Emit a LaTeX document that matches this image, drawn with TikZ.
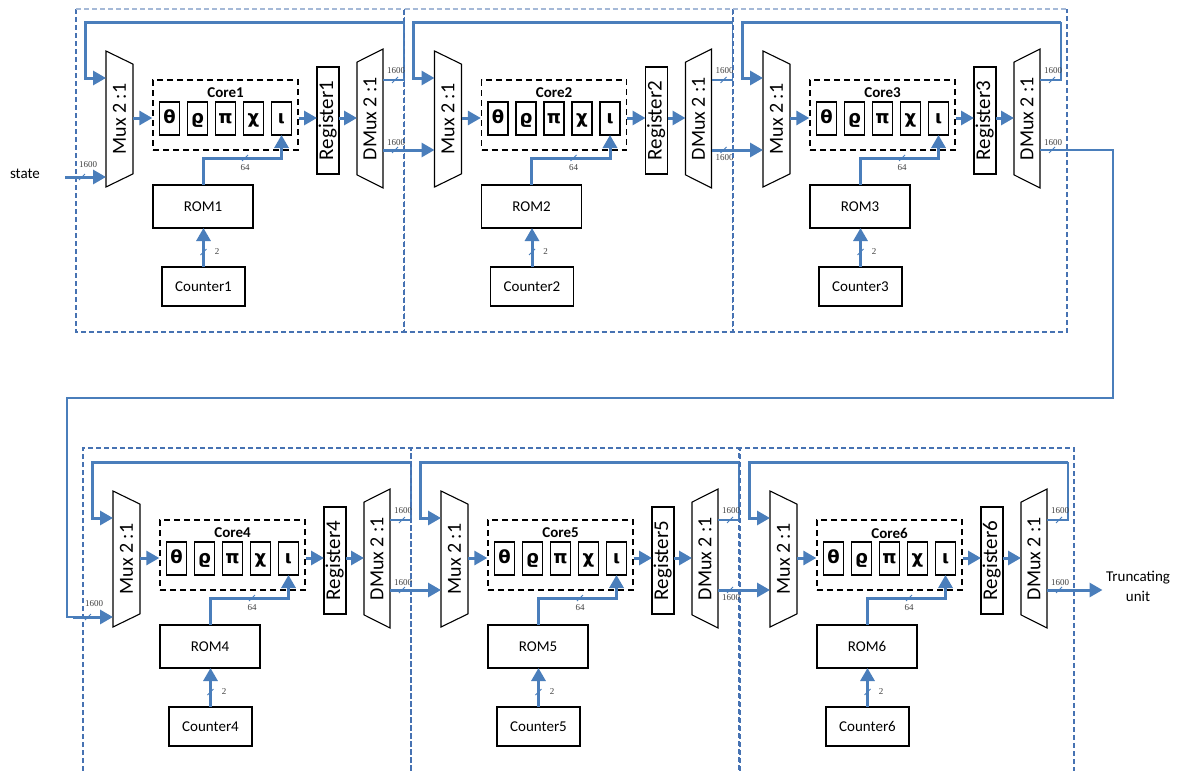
\documentclass[tikz,border=0pt]{standalone}
\usepackage{fontspec}
\setmainfont{Carlito}
\newfontfamily\greekfont{DejaVu Sans}
\newfontfamily\numfont{Liberation Serif}
\usetikzlibrary{arrows.meta,shapes.geometric}
\definecolor{busblue}{RGB}{74,126,187}
\definecolor{frameblue}{RGB}{70,114,178}
\definecolor{frametop}{RGB}{165,185,215}

\begin{document}
\begin{tikzpicture}[x=1pt,y=-1pt,>={Triangle[length=13pt,width=14pt]},
 blk/.style={draw,line width=1.1pt,inner sep=0pt,outer sep=0pt},
 box/.style={blk,minimum width=100pt,minimum height=43pt,font=\fontsize{15}{18}\selectfont},
 mux/.style={blk,trapezium,trapezium angle=45,trapezium stretches body,minimum width=136pt,minimum height=27pt,rotate=90,shape border rotate=180,font=\fontsize{20}{24}\selectfont},
 dmux/.style={mux,shape border rotate=0,minimum width=139pt,minimum height=26pt},
 reg/.style={blk,rotate=90,minimum width=107pt,minimum height=22pt,text height=14pt,text depth=4pt,font=\fontsize{21}{24}\selectfont},
 core/.style={draw,line width=1.4pt,dash pattern=on 6pt off 4pt,minimum width=145pt,minimum height=70pt},
 gbox/.style={blk,minimum width=20pt,minimum height=33pt,text height=13pt,text depth=3pt,font=\greekfont\bfseries\fontsize{18}{18}\selectfont},
 bus/.style={draw=busblue,line width=3pt},
 wire/.style={draw=busblue,line width=1.2pt},
 stagebox/.style={draw=frameblue,line width=1.3pt,dash pattern=on 5pt off 3pt},
 num/.style={font=\numfont\fontsize{9}{9}\selectfont,text=black!75,inner sep=1pt},
 lbl/.style={font=\fontsize{15}{20}\selectfont,align=center},
 tk/.pic={\draw[busblue,line width=0.8pt] (-3,3) -- (3,-3);}]
\path[use as bounding box,fill=white] (0,0) rectangle (1178,771);
% six rounds, three per row
\foreach \i/\X/\Y/\m/\w/\lp in {1/106/0/177/298/above,2/434.5/0/150/298/below,3/763/0/150/304/above,
  4/113/440/177/298/above,5/441/440/150/298/below,6/770/440/150/304/above}{
  \ifnum\Y=0
   \draw[stagebox] (\X-30,9) -- (\X-30,332) -- (\X+\w,332) -- (\X+\w,9);
   \draw[stagebox,draw=frametop] (\X-30,9) -- (\X+\w,9);
  \else
   \draw[stagebox] (\X-30,771) -- (\X-30,448) -- (\X+\w,448) -- (\X+\w,771);
  \fi
  \node[mux] (mux\i) at (\X+13.5,\Y+119) {Mux 2 :1};
  \node[core] (core\i) at (\X+119.5,\Y+115) {};
  \node[font=\bfseries\fontsize{15}{18}\selectfont] (cl\i) at (\X+119.5,\Y+93) {Core\i};
  \foreach \g [count=\k from 0] in {θ,ϱ,π,χ,ι}
    \node[gbox] (g\i\k) at (\X+63.5+28*\k,\Y+118.5) {\g};
  \node[reg] (reg\i) at (\X+222,\Y+120.5) {Register\i};
  \node[dmux] (dmux\i) at (\X+264,\Y+118.5) {DMux 2 :1};
  \node[box] (rom\i) at (\X+97,\Y+206.5) {ROM\i};
  \node[box,minimum width=83pt,minimum height=39pt] (cnt\i) at (\X+97.5,\Y+286.5) {Counter\i};
  % ports
  \coordinate (mt\i) at (\X,\Y+78);
  \coordinate (mb\i) at (\X,\Y+\m);
  \coordinate (mo\i) at (\X+27,\Y+118);
  \coordinate (dt\i) at (\X+277,\Y+80);
  \coordinate (db\i) at (\X+277,\Y+150);
  \coordinate (fb\i) at (\X+298,\Y+22);
  \coordinate (fl\i) at (\X-21,\Y+22);
  % datapath
  \draw[bus,->] (mo\i) -- (mo\i -| core\i.west);
  \draw[bus,->] (core\i.east |- mo\i) -- (reg\i.north |- mo\i);
  \draw[bus,->] (reg\i.south |- mo\i) -- (dmux\i.north |- mo\i);
  \draw[wire] (dt\i) -| (fb\i);
  \draw[bus,->] (fb\i) -- (fl\i) |- (mt\i);
  \pic at (\X+289,\Y+80) {tk};
  \node[num] (nt\i) at (\X+290,\Y+71) {1600};
  \pic at (\X+289,\Y+150) {tk};
  \node[num,\lp=3pt] (nb\i) at (\X+290,\Y+150) {1600};
  % round constants
  \draw[bus,->] (rom\i.north) -- ++(0,-27) -| (g\i4.south);
  \pic at (\X+139,\Y+158) {tk};
  \node[num] (nr\i) at (\X+139,\Y+168) {64};
  \draw[bus,->] (cnt\i.north) -- (cnt\i.north |- rom\i.south);
  \pic at (\X+97.5,\Y+252) {tk};
  \node[num] (nc\i) at (\X+111,\Y+252) {2};
}
% links between rounds
\node[lbl] (state) at (25,174) {state};
\coordinate (sin) at (65,177);
\draw[bus,->] (sin) -- (mb1);
\pic at (82,177) {tk};
\node[num] (ns) at (88,165) {1600};
\draw[bus,->] (db1) -- (mb2);
\draw[bus,->] (db2) -- (mb3);
\coordinate (c4) at (73,617);
\draw[wire] (db3) -| (1113,398) -| (67,617) -- (c4);
\draw[bus,->] (c4) -- (mb4);
\pic at (88,617) {tk};
\node[num] (n4) at (94,604) {1600};
\draw[bus,->] (db4) -- (mb5);
\draw[bus,->] (db5) -- (mb6);
\node[lbl] (trunc) at (1138,586) {Truncating\\unit};
\draw[bus,->] (db6) -- (db6 -| trunc.west);
\end{tikzpicture}
\end{document}
